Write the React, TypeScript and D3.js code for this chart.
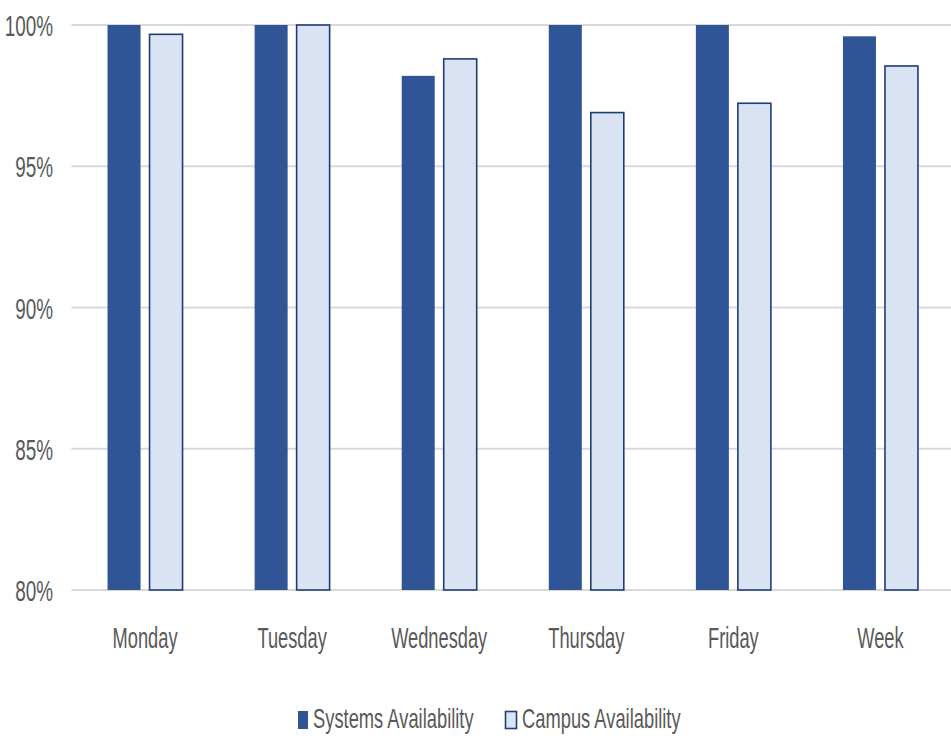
import React from "react";
import * as d3 from "d3";

const categories = ["Monday", "Tuesday", "Wednesday", "Thursday", "Friday", "Week"];
const seriesNames = ["Systems Availability", "Campus Availability"];
const systemsValues = [1.0, 1.0, 0.982, 1.0, 1.0, 0.996];
const campusValues = [0.9967, 1.0, 0.988, 0.969, 0.9723, 0.9855];
const yTicks = [0.8, 0.85, 0.9, 0.95, 1.0];

const W = 951;
const H = 743;
const FONT = "'Liberation Sans', Arial, sans-serif";
const TXT = "#595959";
const DARK = "#2F5597";
const LIGHT = "#DAE3F3";
const EDGE = "#1F3C78";

function SqText(props: { x: number; y: number; size: number; sx?: number; anchor?: string; children: React.ReactNode }) {
  const { x, y, size, sx = 0.63, anchor = "start", children } = props;
  return (
    <g transform={`translate(${x},${y}) scale(${sx},1)`}>
      <text x={0} y={0} fontSize={size} fontFamily={FONT} fill={TXT} textAnchor={anchor}>
        {children}
      </text>
    </g>
  );
}

export default function App() {
  const y = d3.scaleLinear().domain([0.8, 1.0]).range([590, 25]);
  const x = d3.scaleBand<string>().domain(categories).range([71.5, 954]).paddingInner(0).paddingOuter(0);
  const groupW = 75;
  const sub = d3.scaleBand<string>().domain(seriesNames).range([0, groupW]).paddingInner(9 / 42).paddingOuter(0);
  const fmt = d3.format(".0%");

  const series = [
    { name: seriesNames[0], values: systemsValues, fill: DARK, stroke: "none" },
    { name: seriesNames[1], values: campusValues, fill: LIGHT, stroke: EDGE },
  ];

  return (
    <svg width={W} height={H} style={{ position: "absolute", left: 0, top: 0, background: "#fff" }}>
      <rect x={0} y={0} width={W} height={H} fill="#fff" />
      {yTicks.map((t) => (
        <g key={t}>
          <line x1={71.5} x2={W} y1={y(t)} y2={y(t)} stroke="#D9D9D9" strokeWidth={2} />
          <SqText x={53} y={y(t) + 11} size={30} anchor="end">
            {fmt(t)}
          </SqText>
        </g>
      ))}
      {categories.map((c, i) => {
        const g0 = (x(c) as number) + (x.bandwidth() - groupW) / 2;
        return (
          <g key={c}>
            {series.map((s) => {
              const bx = g0 + (sub(s.name) as number);
              const top = y(s.values[i]);
              return (
                <rect
                  key={s.name}
                  x={bx}
                  y={top}
                  width={sub.bandwidth()}
                  height={y(0.8) - top}
                  fill={s.fill}
                  stroke={s.stroke}
                  strokeWidth={s.stroke === "none" ? 0 : 1.6}
                />
              );
            })}
            <SqText x={(x(c) as number) + x.bandwidth() / 2} y={648} size={29} anchor="middle">
              {c}
            </SqText>
          </g>
        );
      })}
      <g>
        <rect x={298} y={711} width={10} height={18} fill={DARK} />
        <SqText x={313} y={728} size={28} sx={0.655}>
          {seriesNames[0]}
        </SqText>
        <rect x={505.5} y={711.5} width={11} height={17} fill={LIGHT} stroke={EDGE} strokeWidth={1.6} />
        <SqText x={522} y={728} size={28} sx={0.655}>
          {seriesNames[1]}
        </SqText>
      </g>
    </svg>
  );
}
